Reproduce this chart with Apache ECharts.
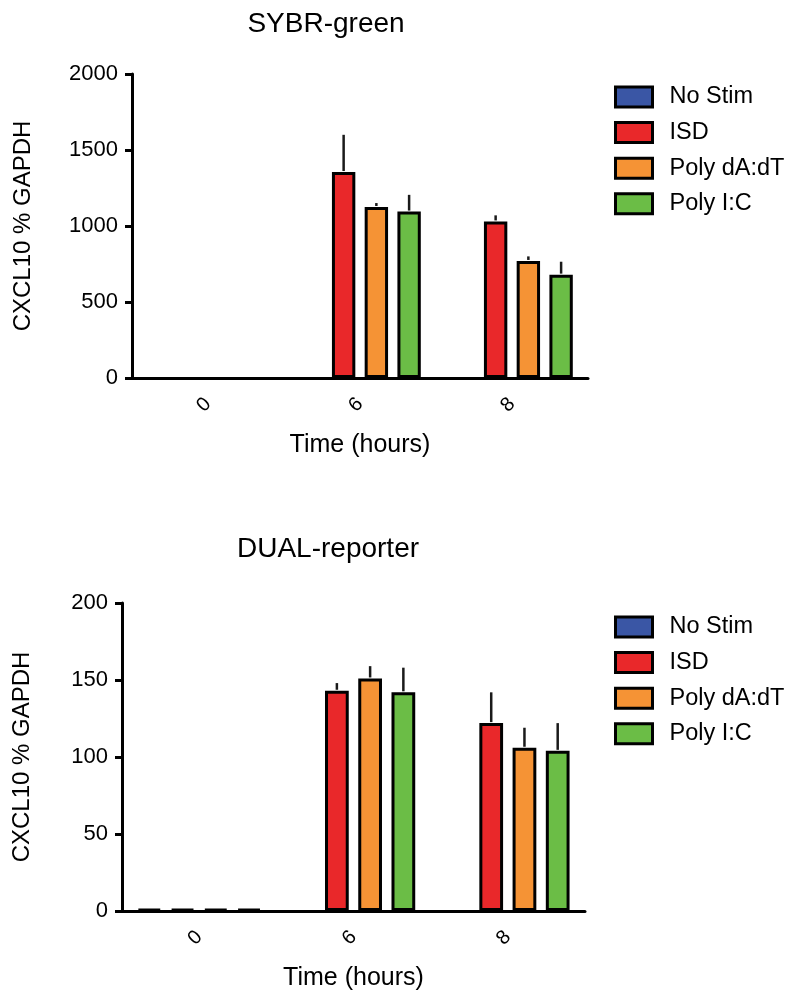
<!DOCTYPE html>
<html><head><meta charset="utf-8">
<script src="https://cdn.jsdelivr.net/npm/echarts@6/dist/echarts.min.js"></script>
<style>html,body{margin:0;padding:0;background:#fff}#c{width:793px;height:992px}</style>
</head><body><div id="c"></div>
<script>
// ---- data ----
const categories = ['0', '6', '8'];
const seriesNames = ['No Stim', 'ISD', 'Poly dA:dT', 'Poly I:C'];

// SYBR-green panel (means and upper error)
const sybrNoStim = [null, null, null];
const sybrISD = [null, 1355, 1030];
const sybrPolyDAdT = [null, 1125, 770];
const sybrPolyIC = [null, 1095, 680];
const sybrNoStimErr = [0, 0, 0];
const sybrISDErr = [0, 245, 40];
const sybrPolyDAdTErr = [0, 26, 30];
const sybrPolyICErr = [0, 110, 85];
const sybrTicks = [0, 500, 1000, 1500, 2000];

// DUAL-reporter panel
const dualNoStim = [1.2, null, null];
const dualISD = [1.2, 143, 122];
const dualPolyDAdT = [1.2, 151, 106];
const dualPolyIC = [1.2, 142, 104];
const dualNoStimErr = [0, 0, 0];
const dualISDErr = [0, 5, 20];
const dualPolyDAdTErr = [0, 8, 13];
const dualPolyICErr = [0, 16, 18];
const dualTicks = [0, 50, 100, 150, 200];

const colors = ['#3a56a5', '#e9282a', '#f59335', '#6bbd46'];
const FONT = '"Liberation Sans", Arial, Helvetica, sans-serif';
const BAR_GAP = 0.40, CAT_GAP = 0.20;

const chart = echarts.init(document.getElementById('c'));

function errRender(si) {
  return function (params, api) {
    const v = api.value(1), e = api.value(2);
    if (isNaN(v) || isNaN(e) || !e) return;
    const band = api.size([1, 0])[0];
    const usable = band * (1 - CAT_GAP);
    const bw = usable / (4 + 3 * BAR_GAP);
    const off = -usable / 2 + bw / 2 + si * bw * (1 + BAR_GAP);
    const p0 = api.coord([api.value(0), v]);
    const p1 = api.coord([api.value(0), v + e]);
    return {
      type: 'line',
      shape: { x1: p0[0] + off, y1: p0[1] - 1, x2: p0[0] + off, y2: p1[1] },
      style: { stroke: '#1a1a1a', lineWidth: 2.5 }
    };
  };
}

const panels = [
  { vals: [sybrNoStim, sybrISD, sybrPolyDAdT, sybrPolyIC],
    errs: [sybrNoStimErr, sybrISDErr, sybrPolyDAdTErr, sybrPolyICErr], ticks: sybrTicks },
  { vals: [dualNoStim, dualISD, dualPolyDAdT, dualPolyIC],
    errs: [dualNoStimErr, dualISDErr, dualPolyDAdTErr, dualPolyICErr], ticks: dualTicks }
];

const series = [];
panels.forEach((p, gi) => {
  p.vals.forEach((arr, si) => {
    series.push({
      type: 'bar', name: seriesNames[si], xAxisIndex: gi, yAxisIndex: gi,
      data: arr, barGap: (BAR_GAP * 100) + '%', barCategoryGap: (CAT_GAP * 100) + '%',
      itemStyle: { color: colors[si], borderColor: '#000', borderWidth: 3 },
      emphasis: { disabled: true }, z: 2
    });
  });
  p.vals.forEach((arr, si) => {
    const d = [];
    arr.forEach((v, ci) => { if (v != null && p.errs[si][ci]) d.push([ci, v, p.errs[si][ci]]); });
    series.push({
      type: 'custom', xAxisIndex: gi, yAxisIndex: gi, data: d,
      renderItem: errRender(si), z: 3, silent: true
    });
  });
});

function xAxisCfg(gi) {
  return {
    type: 'category', gridIndex: gi, data: categories,
    name: 'Time (hours)', nameLocation: 'middle', nameGap: 55,
    nameTextStyle: { fontFamily: FONT, fontSize: 25, color: '#000' },
    axisLine: { lineStyle: { color: '#000', width: 3 } },
    axisTick: { alignWithLabel: true, length: 8, lineStyle: { color: '#000', width: 3 } },
    axisLabel: { rotate: 45, margin: 23, fontFamily: FONT, fontSize: 20, color: '#000' },
    splitLine: { show: false }
  };
}
function yAxisCfg(gi, ticks, gap) {
  return {
    type: 'value', gridIndex: gi, min: ticks[0], max: ticks[ticks.length - 1],
    interval: ticks[1] - ticks[0],
    name: 'CXCL10 % GAPDH', nameLocation: 'middle', nameGap: gap, nameRotate: 90,
    nameTextStyle: { fontFamily: FONT, fontSize: 24, color: '#000' },
    axisLine: { show: true, lineStyle: { color: '#000', width: 3 } },
    axisTick: { show: true, length: 7, lineStyle: { color: '#000', width: 3 } },
    axisLabel: { margin: 14, fontFamily: FONT, fontSize: 22, color: '#000', formatter: v => String(v) },
    splitLine: { show: false }
  };
}

function legendCfg(top) {
  return {
    orient: 'vertical', left: 614, top: top, padding: 0,
    data: seriesNames, icon: 'rect', itemWidth: 37, itemHeight: 20, itemGap: 11.6,
    selectedMode: false,
    itemStyle: { borderColor: '#000', borderWidth: 3 },
    textStyle: { fontFamily: FONT, fontSize: 23.5, color: '#000', padding: [0, 0, 0, 12] }
  };
}

chart.setOption({
  animation: false,
  backgroundColor: '#fff',
  graphic: [
    { type: 'text', x: 326, y: 24, style: { text: 'SYBR-green', font: '28px ' + FONT, fill: '#000', textAlign: 'center', textVerticalAlign: 'middle' } },
    { type: 'text', x: 328, y: 549, style: { text: 'DUAL-reporter', font: '28px ' + FONT, fill: '#000', textAlign: 'center', textVerticalAlign: 'middle' } }
  ],
  legend: [legendCfg(85), legendCfg(615)],
  grid: [
    { left: 132, top: 74, width: 456, height: 304 },
    { left: 122, top: 603, width: 463, height: 309 }
  ],
  xAxis: [xAxisCfg(0), xAxisCfg(1)],
  yAxis: [yAxisCfg(0, sybrTicks, 97), yAxisCfg(1, dualTicks, 88)],
  series: series
});
</script>
</body></html>
